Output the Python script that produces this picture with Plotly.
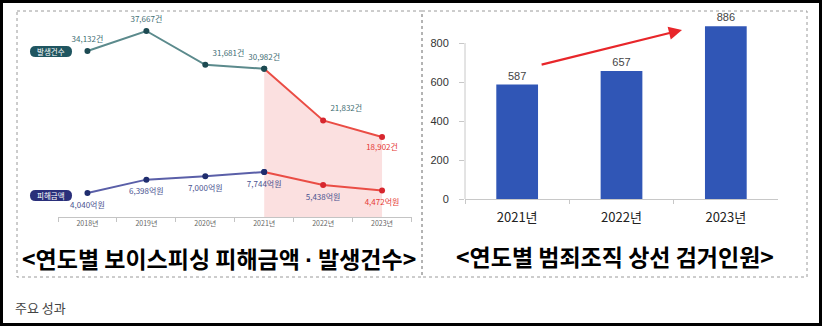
import plotly.graph_objects as go

# ---- data ----
years_left = ["2018년", "2019년", "2020년", "2021년", "2022년", "2023년"]
cases = [34132, 37667, 31681, 30982, 21832, 18902]          # 발생건수 (건)
damage = [4040, 6398, 7000, 7744, 5438, 4472]               # 피해금액 (억원)

years_right = ["2021년", "2022년", "2023년"]
arrests = [587, 657, 886]                                   # 범죄조직 상선 검거인원
y_ticks = [0, 200, 400, 600, 800]

W, H = 822, 326
def px(x):
    return x / W
def py(y):
    return 1 - y / H

TEAL_LINE = "#5b8a8c"
TEAL_MARK = "#1d4a52"
NAVY_LINE = "#5a5fa8"
NAVY_MARK = "#1f2d6e"
RED_LINE = "#ea4d45"
RED_MARK = "#d7262e"
RED_TEXT = "#e53935"
PINK = "#fbe0e0"
FONT = "Noto Sans CJK KR"

fig = go.Figure()

# shaded decline period (2021 → 2023) under the case-count line
fig.add_trace(go.Scatter(
    x=years_left[3:], y=cases[3:], mode="lines", line=dict(width=0),
    fill="tozeroy", fillcolor=PINK, xaxis="x", yaxis="y", hoverinfo="skip"))

# case counts
fig.add_trace(go.Scatter(
    x=years_left[:4], y=cases[:4], mode="lines+markers",
    line=dict(color=TEAL_LINE, width=2),
    marker=dict(color=TEAL_MARK, size=6), xaxis="x", yaxis="y"))
fig.add_trace(go.Scatter(
    x=years_left[3:], y=cases[3:], mode="lines+markers",
    line=dict(color=RED_LINE, width=2),
    marker=dict(color=[TEAL_MARK, RED_MARK, RED_MARK], size=6),
    xaxis="x", yaxis="y"))

# damage amounts
fig.add_trace(go.Scatter(
    x=years_left[:4], y=damage[:4], mode="lines+markers",
    line=dict(color=NAVY_LINE, width=2),
    marker=dict(color=NAVY_MARK, size=6), xaxis="x", yaxis="y2"))
fig.add_trace(go.Scatter(
    x=years_left[3:], y=damage[3:], mode="lines+markers",
    line=dict(color=RED_LINE, width=2),
    marker=dict(color=[NAVY_MARK, RED_MARK, RED_MARK], size=6),
    xaxis="x", yaxis="y2"))

# value labels (transparent markers widen the gap between point and text)
fig.add_trace(go.Scatter(
    x=years_left, y=cases, mode="markers+text",
    marker=dict(size=10, opacity=0),
    text=[f"{v:,}건" for v in cases],
    textposition=["top center", "top center", "top right", "top center",
                  "top right", "bottom center"],
    textfont=dict(family=FONT, size=8,
                  color=["#3f6e74"] * 5 + [RED_TEXT]),
    cliponaxis=False, xaxis="x", yaxis="y", hoverinfo="skip"))
fig.add_trace(go.Scatter(
    x=years_left, y=damage, mode="markers+text",
    marker=dict(size=12, opacity=0),
    text=[f"{v:,}억원" for v in damage],
    textposition="bottom center",
    textfont=dict(family=FONT, size=8,
                  color=["#4a5390"] * 5 + [RED_TEXT]),
    cliponaxis=False, xaxis="x", yaxis="y2", hoverinfo="skip"))

# arrests bar chart
fig.add_trace(go.Bar(
    x=years_right, y=arrests, marker=dict(color="#3056b6", line=dict(width=0)),
    width=0.4, text=[str(v) for v in arrests], textposition="outside",
    textfont=dict(family="Liberation Sans", size=11, color="#444"),
    cliponaxis=False, xaxis="x2", yaxis="y3"))

shapes = []

# outer frame and dotted panel borders
shapes.append(dict(type="rect", xref="paper", yref="paper",
                   x0=px(1.5), x1=px(820.5), y0=py(1.5), y1=py(324.5),
                   line=dict(color="black", width=3)))
for x0, x1 in [(17, 422), (422, 807)]:
    shapes.append(dict(type="rect", xref="paper", yref="paper",
                       x0=px(x0), x1=px(x1), y0=py(11), y1=py(277),
                       line=dict(color="#9a9a9a", width=1, dash="dot")))

# pill-shaped series badges
def pill(x0, x1, y0, y1, color):
    r = (y1 - y0) / 2
    ym = (y0 + y1) / 2
    pts = (f"M {px(x0 + r)},{py(y0)} L {px(x1 - r)},{py(y0)} "
           f"Q {px(x1)},{py(y0)} {px(x1)},{py(ym)} "
           f"Q {px(x1)},{py(y1)} {px(x1 - r)},{py(y1)} "
           f"L {px(x0 + r)},{py(y1)} "
           f"Q {px(x0)},{py(y1)} {px(x0)},{py(ym)} "
           f"Q {px(x0)},{py(y0)} {px(x0 + r)},{py(y0)} Z")
    return dict(type="path", xref="paper", yref="paper", path=pts,
                fillcolor=color, line=dict(width=0))

shapes.append(pill(30, 72, 46, 57, "#1f5560"))
shapes.append(pill(30, 72, 190, 201, "#2a2f7a"))

# bar chart value axis line (0 – 800)
shapes.append(dict(type="line", xref="paper", yref="y3",
                   x0=px(465), x1=px(465), y0=y_ticks[0], y1=y_ticks[-1],
                   line=dict(color="#c8c8c8", width=1)))

def label(text, x, y, size, color, xanchor="center", bold=False):
    return dict(text=f"<b>{text}</b>" if bold else text,
                x=px(x), y=py(y), xref="paper", yref="paper",
                xanchor=xanchor, yanchor="middle", showarrow=False,
                font=dict(family=FONT, size=size, color=color))

DOT = '<span style="font-family:Liberation Sans">·</span>'

annotations = [
    label("발생건수", 51, 51.5, 7.5, "white"),
    label("피해금액", 51, 195.5, 7.5, "white"),
    label(f"&lt;연도별 보이스피싱 피해금액 {DOT} 발생건수&gt;", 219, 258, 23, "black", bold=True),
    label("&lt;연도별 범죄조직 상선 검거인원&gt;", 615, 256, 23, "black", bold=True),
    label("주요 성과", 13, 307, 13, "#444", xanchor="left"),
    # upward trend arrow
    dict(x=1.58, y=867, ax=0.22, ay=687, xref="x2", yref="y3",
         axref="x2", ayref="y3", text="", showarrow=True,
         arrowhead=2, arrowsize=1.2, arrowwidth=2.2, arrowcolor="#e8262a"),
]

fig.update_layout(
    width=W, height=H, margin=dict(l=0, r=0, t=0, b=0, autoexpand=False),
    paper_bgcolor="white", plot_bgcolor="rgba(0,0,0,0)",
    showlegend=False, shapes=shapes, annotations=annotations,
    xaxis=dict(type="category", categoryorder="array", categoryarray=years_left,
               domain=[px(58), px(411.5)], automargin=False,
               range=[-0.5, 5.5], anchor="y",
               showline=True, linecolor="#c4c4c4", linewidth=1,
               ticks="outside", tickson="boundaries", ticklen=4,
               tickcolor="#c4c4c4", showgrid=False, zeroline=False,
               tickfont=dict(family=FONT, size=7, color="#666")),
    yaxis=dict(domain=[py(217), py(20)], range=[4745, 39614],
               visible=False, showgrid=False, automargin=False),
    yaxis2=dict(overlaying="y", range=[-194, 34557],
                visible=False, showgrid=False, automargin=False),
    xaxis2=dict(type="category", domain=[px(465), px(778)],
                range=[-0.5, 2.5], anchor="y3", automargin=False,
                showline=True, linecolor="#c8c8c8", linewidth=1,
                ticks="outside", tickson="boundaries", ticklen=4,
                tickcolor="#c8c8c8", showgrid=False, zeroline=False,
                ticklabelstandoff=6,
                tickfont=dict(family=FONT, size=13, color="#222")),
    yaxis3=dict(domain=[py(199), py(12)], range=[0, 959], anchor="x2",
                automargin=False,
                tickvals=y_ticks, ticks="outside", ticklen=5,
                tickcolor="#c8c8c8", showline=False, showgrid=False,
                zeroline=False, ticklabelstandoff=8,
                tickfont=dict(family="Liberation Sans", size=11, color="#333")),
)

# page without the default body margin so the chart sits flush in the window
page_css = ("document.documentElement.style.margin='0';"
            "document.body.style.margin='0';"
            "document.body.style.overflow='hidden';")

fig.write_html("out.html", post_script=page_css)
